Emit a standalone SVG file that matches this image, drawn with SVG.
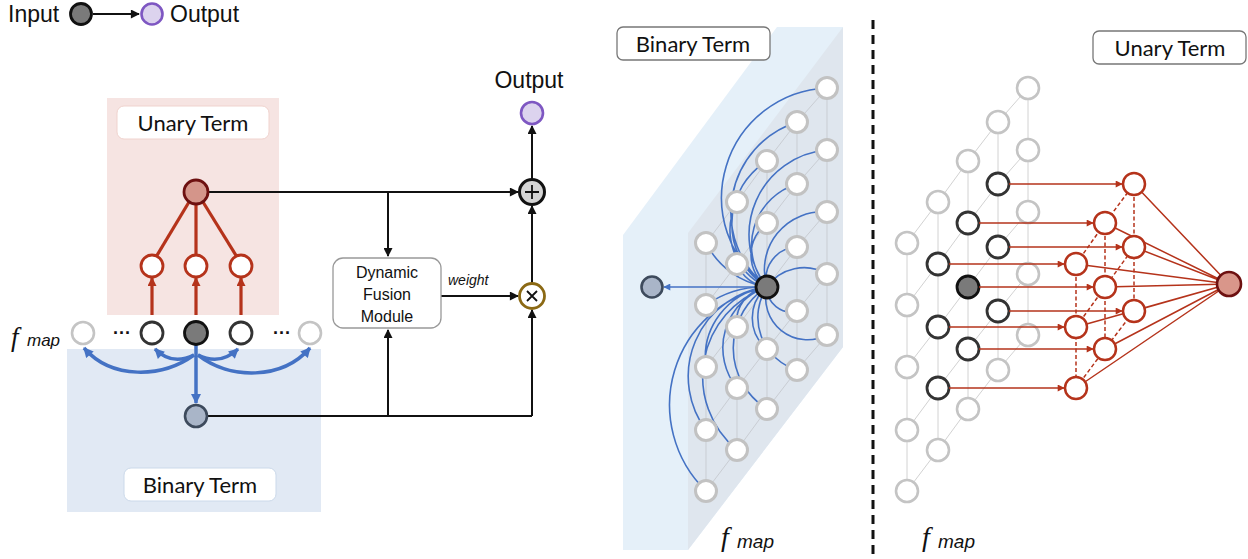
<svg xmlns="http://www.w3.org/2000/svg" width="1248" height="559" viewBox="0 0 1248 559">
<style>
.lg{fill:#fff;stroke:#c4c4c4;stroke-width:2.6}
.bk{fill:#fff;stroke:#333;stroke-width:2.8}
.dk{fill:#7a7a7a;stroke:#111;stroke-width:2.8}
.rn{fill:#fff;stroke:#b5331b;stroke-width:2.5}
.rn2{fill:#fff;stroke:#b5331b;stroke-width:2.8}
.mg{fill:#fff;stroke:#c2c2c2;stroke-width:3}
.bg{fill:#a9b5c8;stroke:#3d4a5c;stroke-width:2.6}
.fin{fill:#d9968a;stroke:#6d1010;stroke-width:2.6}
.out{fill:#dcd3ee;stroke:#7e57c2;stroke-width:2.6}
.grid{stroke:#c9cdd3;stroke-width:1;fill:none}
.grid2{stroke:#d2d2d2;stroke-width:1;fill:none}
.bl{stroke:#4472c4;stroke-width:1.6;fill:none}
.blt{stroke:#4472c4;stroke-width:3.5;fill:none}
.rl{stroke:#b5331b;stroke-width:1.5;fill:none}
.rd{stroke:#b5331b;stroke-width:1.5;stroke-dasharray:4 2.5;fill:none}
.rt{stroke:#b5331b;stroke-width:3.2;fill:none}
.k{stroke:#111;stroke-width:2;fill:none}
.lbl{font-family:Lato,"Open Sans",sans-serif;font-size:22px;fill:#111;text-anchor:middle}
.box{fill:#fff;stroke:#777;stroke-width:1.3}
.sans{font-family:"Liberation Sans",Arial,sans-serif;fill:#111}
.fi{font-family:"Liberation Serif","Times New Roman",serif;font-style:italic;fill:#111}
</style>
<defs>
<marker id="ak" viewBox="0 0 10 10" refX="9" refY="5" markerWidth="10" markerHeight="9" orient="auto" markerUnits="userSpaceOnUse"><path d="M0,0 L10,5 L0,10 z" fill="#111"/></marker>
<marker id="ar" viewBox="0 0 10 10" refX="9" refY="5" markerWidth="8" markerHeight="7" orient="auto" markerUnits="userSpaceOnUse"><path d="M0,0 L10,5 L0,10 z" fill="#b5331b"/></marker>
<marker id="art" viewBox="0 0 10 10" refX="9" refY="5" markerWidth="10" markerHeight="9" orient="auto" markerUnits="userSpaceOnUse"><path d="M0,0 L10,5 L0,10 z" fill="#b5331b"/></marker>
<marker id="ab" viewBox="0 0 10 10" refX="9" refY="5" markerWidth="11" markerHeight="10" orient="auto" markerUnits="userSpaceOnUse"><path d="M0,0 L10,5 L0,10 z" fill="#4472c4"/></marker>
<marker id="abs" viewBox="0 0 10 10" refX="9" refY="5" markerWidth="8" markerHeight="7" orient="auto" markerUnits="userSpaceOnUse"><path d="M0,0 L10,5 L0,10 z" fill="#4472c4"/></marker>
</defs>
<rect width="1248" height="559" fill="#fff"/>

<!-- Legend -->
<g id="legend">
<text class="sans" x="8" y="22" font-size="23">Input</text>
<circle class="dk" cx="81" cy="14" r="10.5"/>
<line class="k" x1="93" y1="14" x2="139" y2="14" marker-end="url(#ak)"/>
<circle class="out" cx="152" cy="14" r="10.5"/>
<text class="sans" x="170" y="22" font-size="23">Output</text>
</g>

<!-- Left panel backgrounds -->
<rect x="107" y="98" width="172" height="217" fill="#f6e4e2"/>
<rect x="67" y="349" width="254" height="163" fill="#e1e9f4"/>
<g id="lbl-unary-left">
<rect x="117" y="106" width="152" height="33" rx="7" fill="#fff" stroke="#f0d3ce" stroke-width="1"/>
<text class="lbl" x="193" y="131">Unary Term</text>
</g>
<g id="lbl-binary-left">
<rect x="124" y="468" width="152" height="33" rx="7" fill="#fff" stroke="#cbd9ea" stroke-width="1"/>
<text class="lbl" x="200" y="493">Binary Term</text>
</g>

<!-- Left connectors -->
<g id="left-connectors">
<line class="rt" x1="189" y1="202" x2="156" y2="257"/>
<line class="rt" x1="196" y1="204" x2="196" y2="255"/>
<line class="rt" x1="203" y1="202" x2="237" y2="257"/>
<line class="rt" x1="152" y1="315" x2="152" y2="278" marker-end="url(#art)"/>
<line class="rt" x1="196" y1="315" x2="196" y2="278" marker-end="url(#art)"/>
<line class="rt" x1="241" y1="315" x2="241" y2="278" marker-end="url(#art)"/>
<path class="blt" d="M194,355 C162,378 112,380 84,348" marker-end="url(#ab)"/>
<path class="blt" d="M194,355 Q172,366 155,349" marker-end="url(#ab)"/>
<path class="blt" d="M198,355 Q220,366 238,349" marker-end="url(#ab)"/>
<path class="blt" d="M198,355 C230,380 282,380 310,348" marker-end="url(#ab)"/>
<line class="blt" x1="196" y1="345" x2="196" y2="403" marker-end="url(#ab)"/>
<line class="k" x1="208" y1="192" x2="518" y2="192" marker-end="url(#ak)"/>
<line class="k" x1="388" y1="192" x2="388" y2="256" marker-end="url(#ak)"/>
<line class="k" x1="208" y1="416" x2="532" y2="416"/>
<line class="k" x1="532" y1="416" x2="532" y2="310" marker-end="url(#ak)"/>
<line class="k" x1="388" y1="416" x2="388" y2="330" marker-end="url(#ak)"/>
<line class="k" x1="441" y1="296" x2="518" y2="296" marker-end="url(#ak)"/>
<text x="448" y="285" font-family="Liberation Sans, Arial, sans-serif" font-size="14" font-style="italic" fill="#111">weight</text>
<line class="k" x1="532" y1="283" x2="532" y2="206" marker-end="url(#ak)"/>
<line class="k" x1="532" y1="179" x2="532" y2="126" marker-end="url(#ak)"/>
</g>

<!-- Left nodes -->
<g id="u-top"><circle cx="196" cy="192" r="12" fill="#d4958a" stroke="#6d1010" stroke-width="2.8"/></g>
<g id="u-a"><circle class="rn2" cx="152" cy="266" r="11"/></g>
<g id="u-b"><circle class="rn2" cx="196" cy="266" r="11"/></g>
<g id="u-c"><circle class="rn2" cx="241" cy="266" r="11"/></g>
<g id="f-0"><circle class="lg" cx="83" cy="333" r="11"/></g>
<g id="f-1"><circle class="bk" cx="152" cy="333" r="11"/></g>
<g id="f-2"><circle class="dk" cx="196" cy="333" r="11.5"/></g>
<g id="f-3"><circle class="bk" cx="241" cy="333" r="11"/></g>
<g id="f-4"><circle class="lg" cx="310" cy="333" r="11"/></g>
<text class="sans" x="113" y="339" font-size="18" font-weight="bold">···</text>
<text class="sans" x="273" y="339" font-size="18" font-weight="bold">···</text>
<text class="fi" x="11" y="346" font-size="27">f</text>
<text x="27" y="346" font-family="Liberation Sans, Arial, sans-serif" font-style="italic" font-size="17" fill="#111">map</text>
<g id="b-node"><circle class="bg" cx="196" cy="416" r="11"/></g>
<g id="dfm">
<rect x="333" y="258" width="108" height="70" rx="10" fill="#fff" stroke="#999" stroke-width="1.3"/>
<text class="sans" x="387" y="278" font-size="16" text-anchor="middle">Dynamic</text>
<text class="sans" x="387" y="300" font-size="16" text-anchor="middle">Fusion</text>
<text class="sans" x="387" y="322" font-size="16" text-anchor="middle">Module</text>
</g>
<g id="plus">
<circle cx="532" cy="192" r="12.5" fill="#d4d4d4" stroke="#111" stroke-width="3"/>
<path d="M525,192 H539 M532,185 V199" stroke="#111" stroke-width="1.8"/>
</g>
<g id="times">
<circle cx="532" cy="296" r="12.5" fill="#fff" stroke="#8b6914" stroke-width="2.8"/>
<path d="M527,291 L537,301 M537,291 L527,301" stroke="#111" stroke-width="1.8"/>
</g>
<g id="out-node">
<circle class="out" cx="532" cy="113" r="11"/>
<text class="sans" x="529" y="88" font-size="23" text-anchor="middle">Output</text>
</g>

<!-- Middle panel -->
<g id="slab">
<polygon points="623,235 777,27 843,27 843,347 688,550 623,550" fill="#e5f0f9"/>
<polygon points="688,233 843,27 843,347 688,550" fill="#dfe6ee"/>
</g>
<g id="lbl-binary-mid">
<rect class="box" x="617" y="27" width="153" height="33" rx="6"/>
<text class="lbl" x="693" y="52">Binary Term</text>
</g>
<g id="mid-grid" class="grid">
<path d="M706,243 V491 M737,202 V450 M767,161 V409 M797,122 V370 M827,88 V335"/>
<polyline points="706,243 737,202 767,161 797,122 827,88"/>
<polyline points="706,305 737,264 767,223 797,184 827,150"/>
<polyline points="706,367 737,327 767,287 797,247 827,212"/>
<polyline points="706,430 737,388 767,349 797,311 827,274"/>
<polyline points="706,491 737,450 767,409 797,370 827,335"/>
</g>
<g id="mid-connectors">
<path class="bl" d="M767,287 A82 82 0 0 1 706,243 M767,287 A100 100 0 0 0 706,305 M767,287 A71 71 0 0 0 706,367 M767,287 A90 90 0 0 0 706,430 M767,287 A120 120 0 0 0 706,491 M767,287 A62 62 0 0 1 737,202 M767,287 A37 37 0 0 1 737,264 M767,287 A35 35 0 0 0 737,327 M767,287 A64 64 0 0 0 737,388 M767,287 A95 95 0 0 0 737,450 M767,287 A74 74 0 0 1 767,161 M767,287 A40 40 0 0 1 767,223 M767,287 A40 40 0 0 0 767,349 M767,287 A72 72 0 0 0 767,409 M767,287 A95 95 0 0 1 797,122 M767,287 A64 64 0 0 1 797,184 M767,287 A32 32 0 0 1 797,247 M767,287 A24 24 0 0 0 797,311 M767,287 A55 55 0 0 0 797,370 M767,287 A110 110 0 0 1 827,88 M767,287 A85 85 0 0 1 827,150 M767,287 A58 58 0 0 1 827,212 M767,287 A45 45 0 0 1 827,274 M767,287 A42 42 0 0 0 827,335"/>
<line class="bl" x1="756" y1="287" x2="664" y2="287" marker-end="url(#abs)"/>
</g>
<g id="m00"><circle class="mg" cx="706" cy="243" r="10.5"/></g>
<g id="m01"><circle class="mg" cx="706" cy="305" r="10.5"/></g>
<g id="m02"><circle class="mg" cx="706" cy="367" r="10.5"/></g>
<g id="m03"><circle class="mg" cx="706" cy="430" r="10.5"/></g>
<g id="m04"><circle class="mg" cx="706" cy="491" r="10.5"/></g>
<g id="m10"><circle class="mg" cx="737" cy="202" r="10.5"/></g>
<g id="m11"><circle class="mg" cx="737" cy="264" r="10.5"/></g>
<g id="m12"><circle class="mg" cx="737" cy="327" r="10.5"/></g>
<g id="m13"><circle class="mg" cx="737" cy="388" r="10.5"/></g>
<g id="m14"><circle class="mg" cx="737" cy="450" r="10.5"/></g>
<g id="m20"><circle class="mg" cx="767" cy="161" r="10.5"/></g>
<g id="m21"><circle class="mg" cx="767" cy="223" r="10.5"/></g>
<g id="m22"><circle class="dk" cx="767" cy="287" r="11"/></g>
<g id="m23"><circle class="mg" cx="767" cy="349" r="10.5"/></g>
<g id="m24"><circle class="mg" cx="767" cy="409" r="10.5"/></g>
<g id="m30"><circle class="mg" cx="797" cy="122" r="10.5"/></g>
<g id="m31"><circle class="mg" cx="797" cy="184" r="10.5"/></g>
<g id="m32"><circle class="mg" cx="797" cy="247" r="10.5"/></g>
<g id="m33"><circle class="mg" cx="797" cy="311" r="10.5"/></g>
<g id="m34"><circle class="mg" cx="797" cy="370" r="10.5"/></g>
<g id="m40"><circle class="mg" cx="827" cy="88" r="10.5"/></g>
<g id="m41"><circle class="mg" cx="827" cy="150" r="10.5"/></g>
<g id="m42"><circle class="mg" cx="827" cy="212" r="10.5"/></g>
<g id="m43"><circle class="mg" cx="827" cy="274" r="10.5"/></g>
<g id="m44"><circle class="mg" cx="827" cy="335" r="10.5"/></g>
<g id="m-bin"><circle class="bg" cx="652" cy="287" r="10.5"/></g>
<text class="fi" x="721" y="546" font-size="28">f</text>
<text x="737" y="548" font-family="Liberation Sans, Arial, sans-serif" font-style="italic" font-size="19" fill="#111">map</text>

<!-- Separator -->
<line x1="873" y1="20" x2="873" y2="559" stroke="#111" stroke-width="3" stroke-dasharray="9 6"/>

<!-- Right panel -->
<g id="lbl-unary-right">
<rect class="box" x="1093" y="31" width="153" height="33" rx="6"/>
<text class="lbl" x="1170" y="56">Unary Term</text>
</g>
<g id="right-grid" class="grid2">
<path d="M907,243 V491 M938,202 V450 M968,161 V409 M998,122 V370 M1028,88 V335"/>
<polyline points="907,243 938,202 968,161 998,122 1028,88"/>
<polyline points="907,305 938,264 968,223 998,184 1028,150"/>
<polyline points="907,367 938,327 968,287 998,247 1028,212"/>
<polyline points="907,430 938,388 968,349 998,311 1028,274"/>
<polyline points="907,491 938,450 968,409 998,370 1028,335"/>
</g>
<g id="n00"><circle class="lg" cx="907" cy="243" r="11"/></g>
<g id="n01"><circle class="lg" cx="907" cy="305" r="11"/></g>
<g id="n02"><circle class="lg" cx="907" cy="367" r="11"/></g>
<g id="n03"><circle class="lg" cx="907" cy="430" r="11"/></g>
<g id="n04"><circle class="lg" cx="907" cy="491" r="11"/></g>
<g id="n10"><circle class="lg" cx="938" cy="202" r="11"/></g>
<g id="n11"><circle class="bk" cx="938" cy="264" r="11"/></g>
<g id="n12"><circle class="bk" cx="938" cy="327" r="11"/></g>
<g id="n13"><circle class="bk" cx="938" cy="388" r="11"/></g>
<g id="n14"><circle class="lg" cx="938" cy="450" r="11"/></g>
<g id="n20"><circle class="lg" cx="968" cy="161" r="11"/></g>
<g id="n21"><circle class="bk" cx="968" cy="223" r="11"/></g>
<g id="n22"><circle class="dk" cx="968" cy="287" r="11"/></g>
<g id="n23"><circle class="bk" cx="968" cy="349" r="11"/></g>
<g id="n24"><circle class="lg" cx="968" cy="409" r="11"/></g>
<g id="n30"><circle class="lg" cx="998" cy="122" r="11"/></g>
<g id="n31"><circle class="bk" cx="998" cy="184" r="11"/></g>
<g id="n32"><circle class="bk" cx="998" cy="247" r="11"/></g>
<g id="n33"><circle class="bk" cx="998" cy="311" r="11"/></g>
<g id="n34"><circle class="lg" cx="998" cy="370" r="11"/></g>
<g id="n40"><circle class="lg" cx="1028" cy="88" r="11"/></g>
<g id="n41"><circle class="lg" cx="1028" cy="150" r="11"/></g>
<g id="n42"><circle class="lg" cx="1028" cy="212" r="11"/></g>
<g id="n43"><circle class="lg" cx="1028" cy="274" r="11"/></g>
<g id="n44"><circle class="lg" cx="1028" cy="335" r="11"/></g>
<g id="right-connectors">
<g marker-end="url(#ar)" class="rl">
<line x1="949" y1="264" x2="1064" y2="264"/>
<line x1="949" y1="327" x2="1064" y2="327"/>
<line x1="949" y1="388" x2="1064" y2="388"/>
<line x1="979" y1="223" x2="1093" y2="223"/>
<line x1="979" y1="287" x2="1093" y2="287"/>
<line x1="979" y1="349" x2="1093" y2="349"/>
<line x1="1009" y1="184" x2="1122" y2="184"/>
<line x1="1009" y1="247" x2="1122" y2="247"/>
<line x1="1009" y1="311" x2="1122" y2="311"/>
</g>
<path class="rd" d="M1076,264 V388 M1105,223 V349 M1134,184 V311 M1076,264 L1105,223 L1134,184 M1076,327 L1105,287 L1134,247 M1076,388 L1105,349 L1134,311"/>
<path class="rl" d="M1076,264 L1229,284 M1076,327 L1229,284 M1076,388 L1229,284 M1105,223 L1229,284 M1105,287 L1229,284 M1105,349 L1229,284 M1134,184 L1229,284 M1134,247 L1229,284 M1134,311 L1229,284"/>
</g>
<g id="r11"><circle class="rn" cx="1076" cy="264" r="11"/></g>
<g id="r12"><circle class="rn" cx="1076" cy="327" r="11"/></g>
<g id="r13"><circle class="rn" cx="1076" cy="388" r="11"/></g>
<g id="r21"><circle class="rn" cx="1105" cy="223" r="11"/></g>
<g id="r22"><circle class="rn" cx="1105" cy="287" r="11"/></g>
<g id="r23"><circle class="rn" cx="1105" cy="349" r="11"/></g>
<g id="r31"><circle class="rn" cx="1134" cy="184" r="11"/></g>
<g id="r32"><circle class="rn" cx="1134" cy="247" r="11"/></g>
<g id="r33"><circle class="rn" cx="1134" cy="311" r="11"/></g>
<g id="r-final"><circle class="fin" cx="1229" cy="284" r="12"/></g>
<text class="fi" x="922" y="546" font-size="28">f</text>
<text x="938" y="548" font-family="Liberation Sans, Arial, sans-serif" font-style="italic" font-size="19" fill="#111">map</text>
</svg>
